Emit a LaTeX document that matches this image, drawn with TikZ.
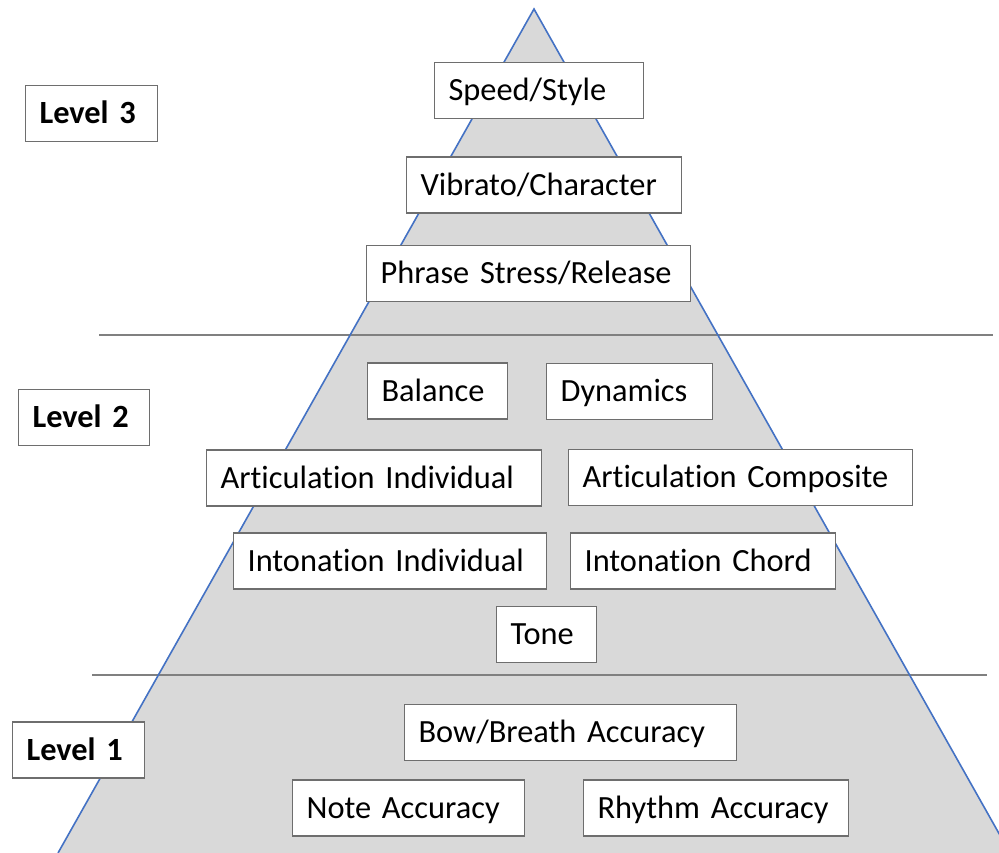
\documentclass[tikz,border=0pt]{standalone}
\usepackage{fontspec}
\setmainfont[Ligatures=NoCommon]{Carlito}
\definecolor{pyrfill}{HTML}{D9D9D9}
\definecolor{pyredge}{HTML}{4472C4}
\definecolor{rulegray}{HTML}{808080}
\definecolor{boxgray}{HTML}{6E6E6E}
\newcommand{\labelfont}{\fontsize{32.5}{39}\selectfont\spaceskip=0.23em\relax}
\begin{document}
\begin{tikzpicture}[x=1bp,y=-1bp,
  pbox/.style={draw=boxgray, line width=1.2bp, fill=white, anchor=west,
    inner xsep=14bp, inner ysep=0pt, align=left, minimum height=56bp,
    font=\labelfont, text height=23.4bp, text depth=2.6bp},
  lvl/.style={pbox, font=\labelfont\bfseries},
  divider/.style={draw=rulegray, line width=1.8bp}]
  \useasboundingbox (0,0) rectangle (999,853);
  \begin{scope}
    \clip (0,0) rectangle (999,853);
    % pyramid body
    \fill[pyrfill] (534,9) -- (58,853) -- (1010,853) -- cycle;
    % level dividers
    \draw[divider] (99,335) -- (993,335);
    \draw[divider] (92,675) -- (987,675);
    % pyramid outline
    \draw[pyredge, line width=1.6bp] (58,853) -- (534,9) -- (1010,853);
  \end{scope}

  % level labels
  \node[lvl, text width=104bp] (lvl3) at (25,113.5) {Level 3};
  \node[lvl, text width=103bp] (lvl2) at (18,417.5) {Level 2};
  \node[lvl, text width=104bp] (lvl1) at (12,750) {Level 1};

  % level 3
  \node[pbox, text width=181bp] (speed) at (434,90.5) {Speed/Style};
  \node[pbox, text width=247bp] (vibrato) at (406,185) {Vibrato/Character};
  \node[pbox, text width=296bp] (phrase) at (366,273.5) {Phrase Stress/Release};

  % level 2
  \node[pbox, text width=112bp] (balance) at (367,391) {Balance};
  \node[pbox, text width=138bp] (dynamics) at (546,391.5) {Dynamics};
  \node[pbox, text width=307bp] (artind) at (206,478) {Articulation Individual};
  \node[pbox, text width=316bp] (artcomp) at (568,477.5) {Articulation Composite};
  \node[pbox, text width=285bp] (intind) at (233,561) {Intonation Individual};
  \node[pbox, text width=237bp] (intchord) at (570,561) {Intonation Chord};
  \node[pbox, text width=72bp] (tone) at (496,634.5) {Tone};

  % level 1
  \node[pbox, text width=304bp] (bow) at (404,732.5) {Bow/Breath Accuracy};
  \node[pbox, text width=204bp] (note) at (292,808) {Note Accuracy};
  \node[pbox, text width=237bp] (rhythm) at (583,808) {Rhythm Accuracy};
\end{tikzpicture}
\end{document}
